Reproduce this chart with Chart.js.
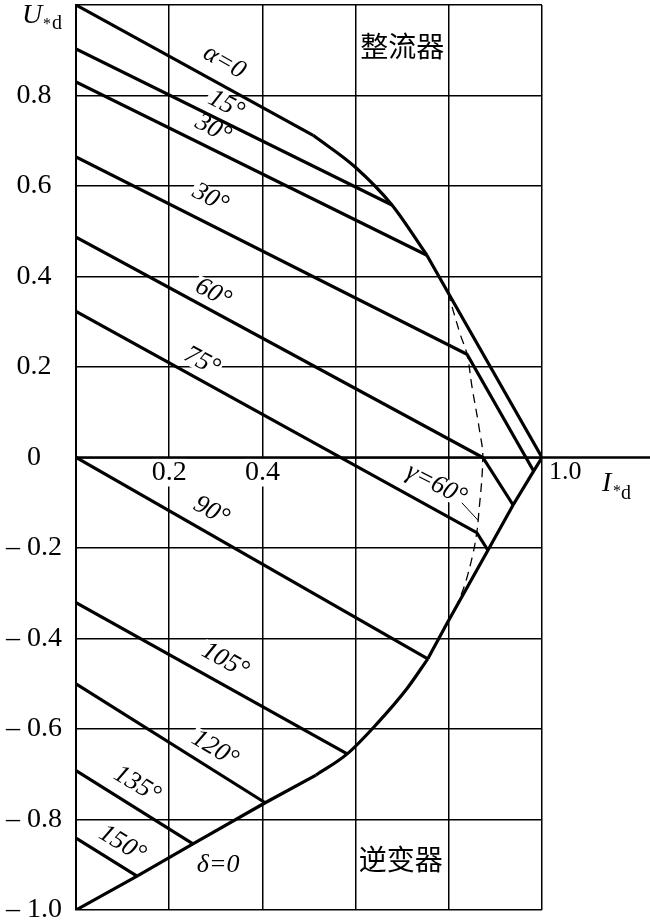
<!DOCTYPE html>
<html>
<head>
<meta charset="utf-8">
<script src="https://cdn.jsdelivr.net/npm/chart.js@4.4.1/dist/chart.umd.min.js"></script>
<style>
  html, body { margin: 0; padding: 0; background: #fff; }
  #wrap { width: 650px; height: 920px; }
</style>
</head>
<body>
<div id="wrap"><canvas id="chart" width="650" height="920"></canvas></div>
<script>
// values: I*d along x, U*d along y

// outer boundary, rectifier side
const alpha0I = [0, 0.509];
const alpha0U = [1.0, 0.712];
const bendI = [0.509, 0.599, 0.678, 0.753];
const bendU = [0.712, 0.642, 0.558, 0.447];
const edgeI = [0.753, 0.798, 1.0];
const edgeU = [0.447, 0.365, 0];

// outer boundary, inverter side (delta = 0)
const deltaI = [0, 0.131, 0.251, 0.406, 0.515];
const deltaU = [-1.0, -0.925, -0.854, -0.763, -0.702];
const deltaBendI = [0.515, 0.582, 0.646, 0.710, 0.755];
const deltaBendU = [-0.702, -0.655, -0.588, -0.511, -0.445];
const deltaEdgeI = [0.755, 0.796, 0.884, 0.938, 0.982, 1.0];
const deltaEdgeU = [-0.445, -0.367, -0.205, -0.105, -0.030, 0];

// alpha lines
const a15I = [0, 0.678];          const a15U = [0.903, 0.558];
const a30I = [0, 0.753];          const a30U = [0.830, 0.447];
const a45I = [0, 0.839, 0.982];   const a45U = [0.664, 0.228, -0.030];
const a60I = [0, 0.873, 0.938];   const a60U = [0.487, 0, -0.105];
const a75I = [0, 0.860, 0.884];   const a75U = [0.323, -0.166, -0.205];
const a90I = [0, 0.755];          const a90U = [0, -0.445];
const a105I = [0, 0.582];         const a105U = [-0.321, -0.655];
const a120I = [0, 0.406];         const a120U = [-0.500, -0.763];
const a135I = [0, 0.251];         const a135U = [-0.692, -0.854];
const a150I = [0, 0.131];         const a150U = [-0.841, -0.925];

// gamma = 60 deg boundary (dashed)
const gammaI = [0.798, 0.824, 0.839, 0.850, 0.867, 0.873, 0.863, 0.860, 0.852, 0.835, 0.818];
const gammaU = [0.365, 0.274, 0.228, 0.155, 0.053, 0, -0.139, -0.166, -0.212, -0.279, -0.325];
const leaderI = [0.828, 0.863];
const leaderU = [-0.100, -0.139];

// the I*d axis runs on past 1.0
const axisI = [0, 1.235];
const axisU = [0, 0];

const xTickLabels = ['0.2', '0.4'];

const serif = '"Liberation Serif", "Times New Roman", serif';
const cjk = '"Noto Sans CJK SC", sans-serif';

const notes = [
  { text: 'α=0', i: 0.318, u: 0.874, angle: 30 },
  { text: '15°', i: 0.322, u: 0.779, angle: 28 },
  { text: '30°', i: 0.294, u: 0.726, angle: 28 },
  { text: '30°', i: 0.288, u: 0.573, angle: 28 },
  { text: '60°', i: 0.294, u: 0.363, angle: 28 },
  { text: '75°', i: 0.270, u: 0.212, angle: 28 },
  { text: '90°', i: 0.290, u: -0.119, angle: 29 },
  { text: '105°', i: 0.320, u: -0.449, angle: 29 },
  { text: '120°', i: 0.298, u: -0.644, angle: 31 },
  { text: '135°', i: 0.131, u: -0.723, angle: 31 },
  { text: '150°', i: 0.099, u: -0.854, angle: 31 },
  { text: 'γ=60°', i: 0.773, u: -0.060, angle: 27 },
  { text: 'δ=0', i: 0.305, u: -0.900, angle: 0, plain: true },
  { text: '1.0', i: 1.05, u: -0.033, angle: 0, plain: true, roman: true },
  { text: '整流器', i: 0.700, u: 0.909, angle: 0, plain: true, font: '28px ' + cjk },
  { text: '逆变器', i: 0.697, u: -0.887, angle: 0, plain: true, font: '28px ' + cjk }
];

function pts(xs, ys) {
  return xs.map((x, i) => ({ x: x, y: ys[i] }));
}

function line(xs, ys, extra) {
  return Object.assign({
    data: pts(xs, ys),
    showLine: true,
    borderColor: '#000',
    borderWidth: 3.2,
    pointRadius: 0,
    fill: false,
    tension: 0
  }, extra || {});
}

function noteFont(n) {
  if (n.font) return n.font;
  return (n.roman ? '' : 'italic ') + '26px ' + serif;
}

const curveText = {
  id: 'curveText',
  beforeDatasetsDraw(chart) {
    // white boxes behind the angle labels, they hide the grid
    const { ctx, scales: { x, y } } = chart;
    ctx.save();
    ctx.fillStyle = '#fff';
    notes.forEach(n => {
      if (n.plain) return;
      ctx.font = noteFont(n);
      const w = ctx.measureText(n.text).width;
      ctx.save();
      ctx.translate(x.getPixelForValue(n.i), y.getPixelForValue(n.u));
      ctx.rotate(n.angle * Math.PI / 180);
      ctx.fillRect(-w / 2 - 2, -10, w + 4, 20);
      ctx.restore();
    });
    ctx.restore();
  },
  afterDatasetsDraw(chart) {
    const { ctx, chartArea, scales: { x, y } } = chart;
    ctx.save();
    ctx.fillStyle = '#000';
    ctx.textAlign = 'center';
    ctx.textBaseline = 'middle';
    notes.forEach(n => {
      ctx.font = noteFont(n);
      ctx.save();
      ctx.translate(x.getPixelForValue(n.i), y.getPixelForValue(n.u));
      ctx.rotate(n.angle * Math.PI / 180);
      ctx.fillText(n.text, 0, 0);
      ctx.restore();
    });

    // axis names U*d and I*d
    ctx.textAlign = 'left';
    ctx.textBaseline = 'alphabetic';
    const ux = chartArea.left - 54, uy = chartArea.top + 18;
    ctx.font = 'italic 28px ' + serif;
    ctx.fillText('U', ux, uy);
    ctx.font = '16px ' + serif;
    ctx.fillText('*', ux + 21, uy + 6);
    ctx.font = '20px ' + serif;
    ctx.fillText('d', ux + 30, uy + 6);

    const ix = chartArea.right + 60, iy = y.getPixelForValue(0) + 33;
    ctx.font = 'italic 28px ' + serif;
    ctx.fillText('I', ix, iy);
    ctx.font = '16px ' + serif;
    ctx.fillText('*', ix + 11, iy + 5);
    ctx.font = '20px ' + serif;
    ctx.fillText('d', ix + 19, iy + 8);
    ctx.restore();
  }
};

new Chart(document.getElementById('chart'), {
  type: 'scatter',
  data: {
    datasets: [
      line(axisI, axisU, { borderWidth: 2.6, clip: false }),
      line(alpha0I, alpha0U),
      line(bendI, bendU, { cubicInterpolationMode: 'monotone' }),
      line(edgeI, edgeU),
      line(a15I, a15U),
      line(a30I, a30U),
      line(a45I, a45U),
      line(a60I, a60U),
      line(a75I, a75U),
      line(a90I, a90U),
      line(a105I, a105U),
      line(a120I, a120U),
      line(a135I, a135U),
      line(a150I, a150U),
      line(deltaI, deltaU),
      line(deltaBendI, deltaBendU, { cubicInterpolationMode: 'monotone' }),
      line(deltaEdgeI, deltaEdgeU),
      line(gammaI, gammaU, { borderWidth: 1.3, borderDash: [9, 6], tension: 0.4 }),
      line(leaderI, leaderU, { borderWidth: 1 })
    ]
  },
  options: {
    responsive: false,
    animation: false,
    layout: { padding: { top: 5, right: 108, bottom: 10, left: 0 } },
    plugins: {
      legend: { display: false },
      tooltip: { enabled: false }
    },
    scales: {
      x: {
        type: 'linear',
        position: { y: 0 },
        min: 0,
        max: 1,
        grid: { color: '#000', lineWidth: 1.5, drawTicks: false },
        border: { display: false },
        ticks: {
          stepSize: 0.2,
          autoSkip: false,
          maxRotation: 0,
          padding: 1,
          color: '#000',
          font: { family: serif, size: 28, lineHeight: 1 },
          showLabelBackdrop: true,
          backdropPadding: 0,
          backdropColor: c => (c.tick && c.tick.label ? '#fff' : 'rgba(0,0,0,0)'),
          callback: v => {
            const s = v.toFixed(1);
            return xTickLabels.includes(s) ? s : '';
          }
        },
        afterFit: s => { s.paddingLeft = 0; s.paddingRight = 0; }
      },
      y: {
        type: 'linear',
        position: 'left',
        min: -1,
        max: 1,
        grid: { color: '#000', lineWidth: 1.5, drawTicks: false },
        border: { display: true, color: '#000', width: 2 },
        ticks: {
          stepSize: 0.2,
          autoSkip: false,
          crossAlign: 'center',
          padding: 14,
          color: '#000',
          font: { family: serif, size: 28 },
          callback: v => {
            if (v > 0.99) return '';
            if (Math.abs(v) < 1e-9) return '0';
            return v < 0 ? '\u2013 ' + Math.abs(v).toFixed(1) : v.toFixed(1);
          }
        },
        afterFit: s => { s.width = 76; s.paddingTop = 0; s.paddingBottom = 0; }
      }
    }
  },
  plugins: [curveText]
});
</script>
</body>
</html>
